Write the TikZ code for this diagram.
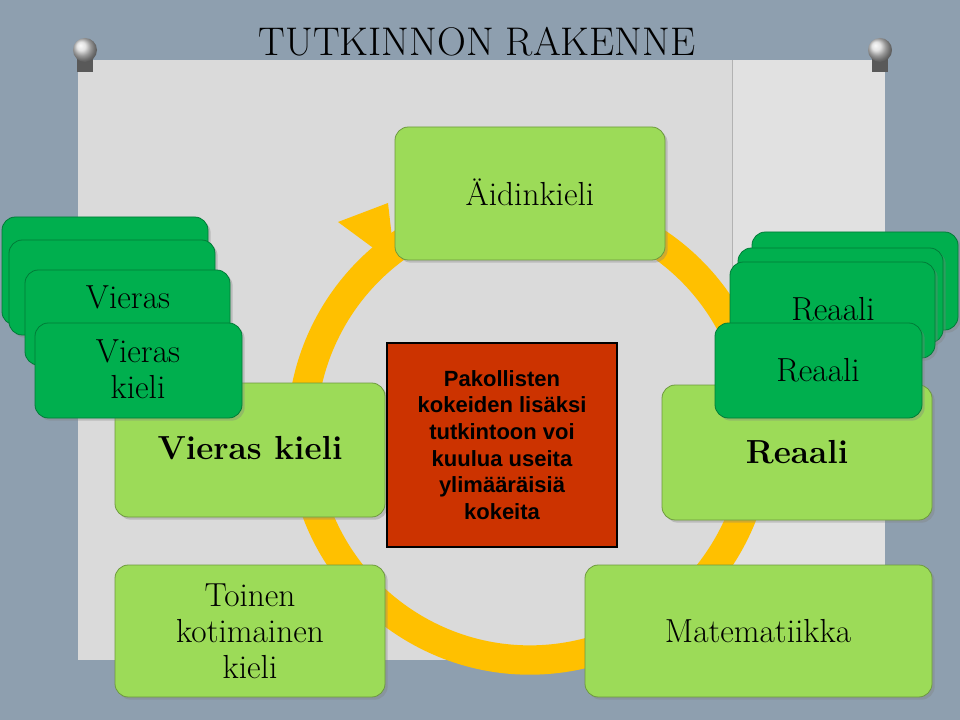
\documentclass[tikz,border=0pt]{standalone}
\usepackage{fontspec}
\newfontfamily\sansb{Liberation Sans}
\usetikzlibrary{arrows.meta,shadows}
\definecolor{bgblue}{HTML}{8E9FAF}
\definecolor{paper}{HTML}{DADADA}
\definecolor{lgreen}{HTML}{9CDB58}
\definecolor{dgreen}{HTML}{00AF4E}
\definecolor{ring}{HTML}{FFC000}
\definecolor{redbox}{HTML}{CC3300}
\tikzset{
  lbox/.style={rounded corners=10pt,fill=lgreen,draw=lgreen!70!black,line width=0.6pt,drop shadow={opacity=0.35,shadow xshift=2pt,shadow yshift=-2pt}},
  dbox/.style={rounded corners=10pt,fill=dgreen,draw=dgreen!70!black,line width=0.6pt,drop shadow={opacity=0.35,shadow xshift=2pt,shadow yshift=-2pt}},
  txt/.style={font=\fontsize{25}{27}\selectfont,align=center,text=black},
  txtb/.style={font=\fontsize{25}{27}\selectfont\bfseries,align=center,text=black},
}
\begin{document}
\begin{tikzpicture}[x=0.75pt,y=-0.75pt]
\useasboundingbox (0,0) rectangle (960,720);
\fill[bgblue] (0,0) rectangle (960,720);
\fill[paper] (78,60) rectangle (885,660);
\fill[paper!80!white] (732,60) rectangle (885,660);
\draw[gray!60,line width=0.5pt] (732,60) -- (732,660);
% pins
\foreach \px in {85,880}{
  \fill[gray!70!black] (\px-8,55) rectangle (\px+8,72);
  \shade[ball color=gray!30] (\px,50) circle (12);
}
\node[font=\fontsize{30}{32}\selectfont] (title) at (477,42) {TUTKINNON RAKENNE};
% ring
\coordinate (rc) at (530,432);
\draw[ring,line width=22pt] (rc) ++(-60:228) arc[start angle=-60,end angle=237,radius=228];
\fill[ring] (388,203) -- (338,222) -- (395,264) -- cycle;
% light boxes
\draw[lbox] (395,127) rectangle (665,260);
\node[txt] (aid) at (530,192) {Äidinkieli};
\draw[lbox] (115,383) rectangle (385,517);
\node[txtb] (vk) at (250,448) {Vieras kieli};
\draw[lbox] (662,385) rectangle (932,520);
\node[txtb] (re) at (797,452) {Reaali};
\draw[lbox] (115,565) rectangle (385,697);
\node[txt] (tk) at (250,631) {Toinen\\kotimainen\\kieli};
\draw[lbox] (585,565) rectangle (932,697);
\node[txt] (mat) at (758,631) {Matematiikka};
% left stack
\draw[dbox] (2,217) rectangle (208,325);
\draw[dbox] (9,240) rectangle (215,335);
\draw[dbox] (25,270) rectangle (230,365);
\node[txt] (v3) at (128,297) {Vieras};
\draw[dbox] (35,323) rectangle (242,418);
\node[txt] (v4) at (138,369) {Vieras\\kieli};
% right stack
\draw[dbox] (752,232) rectangle (958,330);
\draw[dbox] (738,248) rectangle (943,343);
\draw[dbox] (730,262) rectangle (935,358);
\node[txt] (r3) at (833,309) {Reaali};
\draw[dbox] (715,323) rectangle (922,418);
\node[txt] (r4) at (818,370) {Reaali};
% center
\node[draw=black,line width=1.5pt,fill=redbox,minimum width=172pt,minimum height=153pt,inner sep=0pt] (cb) at (502,445) {};
\node[font=\sansb\bfseries\fontsize{16.5}{20}\selectfont,align=center] at (cb) {Pakollisten\\kokeiden lisäksi\\tutkintoon voi\\kuulua useita\\ylimääräisiä\\kokeita};
\end{tikzpicture}
\end{document}
